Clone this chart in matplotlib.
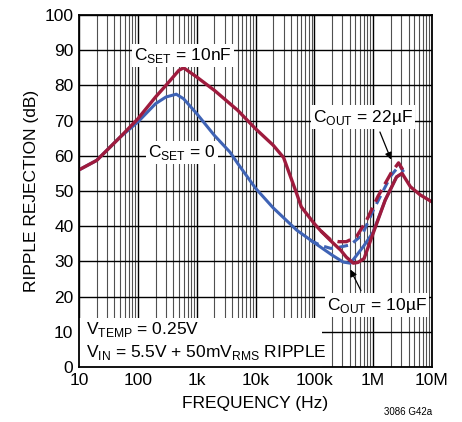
import numpy as np
import matplotlib.pyplot as plt
from matplotlib.patches import Rectangle
from matplotlib.ticker import FixedLocator, NullFormatter

plt.rcParams['font.family'] = ['Liberation Sans Narrow', 'Liberation Sans', 'DejaVu Sans']
plt.rcParams['mathtext.fontset'] = 'custom'
plt.rcParams['mathtext.rm'] = 'Liberation Sans'

# CSET = 10nF, COUT = 10uF (solid red)
f_red = [10, 20, 50, 100, 200, 300, 500, 600, 1e3, 2e3, 5e3, 1e4, 2e4, 3e4, 5e4, 6e4,
         1e5, 1.3e5, 2e5, 2.8e5, 3.5e5, 4.6e5, 5.5e5, 7e5, 1e6, 1.6e6, 2.5e6, 3.1e6,
         4.3e6, 6.3e6, 1e7]
db_red = [56, 58.7, 65.3, 70.5, 76.7, 80, 84.3, 85, 82.4, 78.6, 72.9, 67.7, 63, 59.5, 49.3, 45.5,
          40.7, 38.6, 35.5, 33.2, 31.2, 29.5, 29.7, 30.8, 38, 47.4, 54, 55,
          51.2, 48.9, 46.9]
# CSET = 10nF, COUT = 22uF (dashed red)
f_red22 = [1.3e5, 1.9e5, 2.6e5, 3.5e5, 5.2e5, 7.8e5, 1.2e6, 2e6, 2.7e6, 3.3e6]
db_red22 = [38.6, 36.1, 35.6, 35.6, 37, 41.8, 48.4, 55, 58, 55.6]
# CSET = 0, COUT = 10uF (solid blue)
f_blue = [10, 20, 50, 100, 200, 300, 450, 600, 1e3, 2e3, 3.7e3, 5e3, 1e4, 2e4, 5e4,
          1e5, 2e5, 3.1e5, 4.1e5, 5e5, 7e5, 1e6, 1.6e6, 2.5e6, 3.1e6]
db_blue = [56, 58.7, 65.3, 69.6, 74.8, 76.7, 77.5, 76.2, 72, 65.8, 61, 57.8, 50.8, 45.2, 38.9,
           35.3, 31.8, 29.8, 29.5, 31.3, 34.5, 38.3, 47.4, 54, 55]
# CSET = 0, COUT = 22uF (dashed blue)
f_blue22 = [8.5e4, 1.3e5, 1.9e5, 2.6e5, 4.1e5, 6.5e5, 1e6, 2e6, 2.8e6, 3.3e6]
db_blue22 = [36, 34.5, 33.7, 34, 34.7, 37.5, 44.5, 54.3, 57.3, 55.4]

xticks = [10, 100, 1e3, 1e4, 1e5, 1e6, 1e7]
xlabels = ['10', '100', '1k', '10k', '100k', '1M', '10M']

red = '#9e1b3d'
blue = '#3f63b5'

fig = plt.figure(figsize=(4.62, 4.22), dpi=100)
ax = fig.add_axes([79 / 462, 1 - 367 / 422, 353 / 462, 352 / 422])
ax.set_xscale('log')
ax.set_xlim(10, 1e7)
ax.set_ylim(0, 100)

ax.xaxis.set_major_locator(FixedLocator(xticks))
ax.set_xticklabels(xlabels)
minors = [d * k for d in xticks[:-1] for k in range(2, 10)]
ax.xaxis.set_minor_locator(FixedLocator(minors))
ax.xaxis.set_minor_formatter(NullFormatter())
ax.set_yticks(np.arange(0, 101, 10))
ax.grid(True, which='major', color='black', lw=1.0)
ax.grid(True, which='minor', axis='x', color='#505050', lw=0.8)
ax.tick_params(which='both', length=0, labelsize=12.5, pad=4)
for s in ax.spines.values():
    s.set_linewidth(1.3)
    s.set_zorder(7)

ax.plot(f_blue, db_blue, color=blue, lw=2.2, zorder=3)
ax.plot(f_blue22, db_blue22, color=blue, lw=2.2, ls=(0, (3, 2)), zorder=3)
ax.plot(f_red, db_red, color=red, lw=2.4, zorder=4)
ax.plot(f_red22, db_red22, color=red, lw=2.4, ls=(0, (4, 2)), zorder=4)

box = dict(facecolor='white', edgecolor='none', pad=1.5)
ax.text(590, 88.6, r'C$_{\mathregular{SET}}$ = 10nF', ha='center', va='center',
        fontsize=12.5, bbox=box, zorder=5)
ax.text(560, 61, r'C$_{\mathregular{SET}}$ = 0', ha='center', va='center',
        fontsize=12.5, bbox=box, zorder=5)
ax.text(6.8e5, 71, r'C$_{\mathregular{OUT}}$ = 22µF', ha='center', va='center',
        fontsize=12.5, bbox=box, zorder=5)
ax.text(1.17e6, 17.6, r'C$_{\mathregular{OUT}}$ = 10µF', ha='center', va='center',
        fontsize=12.5, bbox=box, zorder=5)

ax.add_patch(Rectangle((0, 0), 0.688, 0.139, transform=ax.transAxes,
                       facecolor='white', edgecolor='none', zorder=5))
ax.text(13, 1.5, 'V$_{\\mathregular{TEMP}}$ = 0.25V\n'
        'V$_{\\mathregular{IN}}$ = 5.5V + 50mV$_{\\mathregular{RMS}}$ RIPPLE',
        ha='left', va='bottom', fontsize=12.5, linespacing=1.25, zorder=6)

arrow = dict(arrowstyle='-|>', color='black', lw=0.9, mutation_scale=10)
ax.annotate('', xy=(2.1e6, 58.2), xytext=(1.25e6, 67.5), arrowprops=arrow, zorder=6)
ax.annotate('', xy=(3.9e5, 28.4), xytext=(6.5e5, 21), arrowprops=arrow, zorder=6)

ax.set_xlabel('FREQUENCY (Hz)', fontsize=12.5, labelpad=6)
ax.set_ylabel('RIPPLE REJECTION (dB)', fontsize=12.5, labelpad=4)
fig.text(432 / 462, 1 - 412 / 422, '3086 G42a', ha='right', va='center', fontsize=7)

fig.savefig('out.png', dpi=100)
